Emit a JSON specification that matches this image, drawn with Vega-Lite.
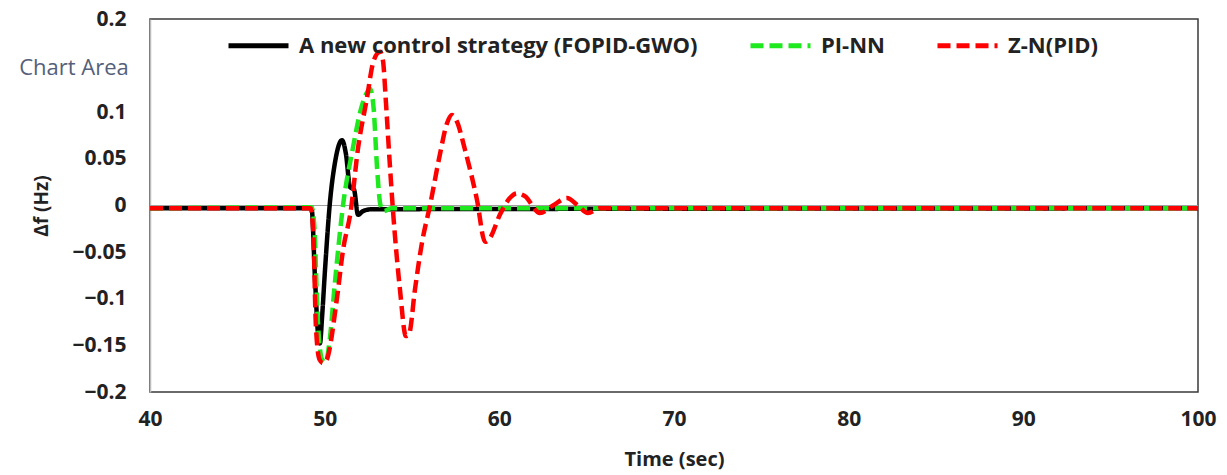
{
  "$schema": "https://vega.github.io/schema/vega-lite/v6.json",
  "width": 1048,
  "height": 373,
  "autosize": "none",
  "padding": {"left": 150, "top": 19, "right": 29, "bottom": 83},
  "background": "white",
  "config": {
    "font": "Open Sans",
    "view": {"stroke": "#3a3a3a", "strokeWidth": 1.5},
    "axis": {"labelFont": "Open Sans", "titleFont": "Open Sans", "labelFontWeight": "bold", "titleFontWeight": "bold", "labelColor": "#222", "titleColor": "#222", "grid": false, "ticks": false}
  },
  "datasets": {
    "curves": [
      {"s": "A new control strategy (FOPID-GWO)", "t": 40, "v": -0.003},
      {"s": "A new control strategy (FOPID-GWO)", "t": 49.25, "v": -0.003},
      {"s": "A new control strategy (FOPID-GWO)", "t": 49.45, "v": -0.08},
      {"s": "A new control strategy (FOPID-GWO)", "t": 49.62, "v": -0.138},
      {"s": "A new control strategy (FOPID-GWO)", "t": 49.73, "v": -0.148},
      {"s": "A new control strategy (FOPID-GWO)", "t": 49.85, "v": -0.12},
      {"s": "A new control strategy (FOPID-GWO)", "t": 50.02, "v": -0.069},
      {"s": "A new control strategy (FOPID-GWO)", "t": 50.3, "v": 0.003},
      {"s": "A new control strategy (FOPID-GWO)", "t": 50.59, "v": 0.046},
      {"s": "A new control strategy (FOPID-GWO)", "t": 50.99, "v": 0.07},
      {"s": "A new control strategy (FOPID-GWO)", "t": 51.22, "v": 0.055},
      {"s": "A new control strategy (FOPID-GWO)", "t": 51.45, "v": 0.02},
      {"s": "A new control strategy (FOPID-GWO)", "t": 51.68, "v": 0.017},
      {"s": "A new control strategy (FOPID-GWO)", "t": 51.91, "v": -0.01},
      {"s": "A new control strategy (FOPID-GWO)", "t": 52.2, "v": -0.006},
      {"s": "A new control strategy (FOPID-GWO)", "t": 52.7, "v": -0.004},
      {"s": "A new control strategy (FOPID-GWO)", "t": 100, "v": -0.003},
      {"s": "PI-NN", "t": 40, "v": -0.003},
      {"s": "PI-NN", "t": 49.25, "v": -0.002},
      {"s": "PI-NN", "t": 49.4, "v": -0.02},
      {"s": "PI-NN", "t": 49.6, "v": -0.12},
      {"s": "PI-NN", "t": 49.85, "v": -0.165},
      {"s": "PI-NN", "t": 50.05, "v": -0.168},
      {"s": "PI-NN", "t": 50.25, "v": -0.15},
      {"s": "PI-NN", "t": 50.6, "v": -0.08},
      {"s": "PI-NN", "t": 51.05, "v": 0.0},
      {"s": "PI-NN", "t": 51.6, "v": 0.06},
      {"s": "PI-NN", "t": 52.1, "v": 0.105},
      {"s": "PI-NN", "t": 52.45, "v": 0.122},
      {"s": "PI-NN", "t": 52.6, "v": 0.125},
      {"s": "PI-NN", "t": 52.8, "v": 0.105},
      {"s": "PI-NN", "t": 53.0, "v": 0.04},
      {"s": "PI-NN", "t": 53.2, "v": 0.0},
      {"s": "PI-NN", "t": 53.4, "v": -0.006},
      {"s": "PI-NN", "t": 53.8, "v": -0.003},
      {"s": "PI-NN", "t": 100, "v": -0.003},
      {"s": "Z-N(PID)", "t": 40, "v": -0.003},
      {"s": "Z-N(PID)", "t": 49.2, "v": -0.003},
      {"s": "Z-N(PID)", "t": 49.35, "v": -0.03},
      {"s": "Z-N(PID)", "t": 49.5, "v": -0.13},
      {"s": "Z-N(PID)", "t": 49.7, "v": -0.165},
      {"s": "Z-N(PID)", "t": 49.9, "v": -0.169},
      {"s": "Z-N(PID)", "t": 50.1, "v": -0.166},
      {"s": "Z-N(PID)", "t": 50.7, "v": -0.1},
      {"s": "Z-N(PID)", "t": 51.05, "v": -0.048},
      {"s": "Z-N(PID)", "t": 51.5, "v": -0.005},
      {"s": "Z-N(PID)", "t": 51.9, "v": 0.06},
      {"s": "Z-N(PID)", "t": 52.4, "v": 0.113},
      {"s": "Z-N(PID)", "t": 52.8, "v": 0.155},
      {"s": "Z-N(PID)", "t": 53.17, "v": 0.165},
      {"s": "Z-N(PID)", "t": 53.34, "v": 0.155},
      {"s": "Z-N(PID)", "t": 53.51, "v": 0.11},
      {"s": "Z-N(PID)", "t": 53.71, "v": 0.05},
      {"s": "Z-N(PID)", "t": 53.91, "v": -0.005},
      {"s": "Z-N(PID)", "t": 54.31, "v": -0.09},
      {"s": "Z-N(PID)", "t": 54.65, "v": -0.14},
      {"s": "Z-N(PID)", "t": 54.83, "v": -0.138},
      {"s": "Z-N(PID)", "t": 55.17, "v": -0.09},
      {"s": "Z-N(PID)", "t": 55.57, "v": -0.04},
      {"s": "Z-N(PID)", "t": 56.03, "v": 0.0},
      {"s": "Z-N(PID)", "t": 56.6, "v": 0.055},
      {"s": "Z-N(PID)", "t": 57.0, "v": 0.088},
      {"s": "Z-N(PID)", "t": 57.29, "v": 0.097},
      {"s": "Z-N(PID)", "t": 57.57, "v": 0.09},
      {"s": "Z-N(PID)", "t": 58.03, "v": 0.06},
      {"s": "Z-N(PID)", "t": 58.72, "v": 0.006},
      {"s": "Z-N(PID)", "t": 59.18, "v": -0.039},
      {"s": "Z-N(PID)", "t": 59.46, "v": -0.035},
      {"s": "Z-N(PID)", "t": 60.03, "v": -0.01},
      {"s": "Z-N(PID)", "t": 60.6, "v": 0.008},
      {"s": "Z-N(PID)", "t": 61.0, "v": 0.013},
      {"s": "Z-N(PID)", "t": 61.46, "v": 0.01},
      {"s": "Z-N(PID)", "t": 62.32, "v": -0.008},
      {"s": "Z-N(PID)", "t": 63.07, "v": 0.0},
      {"s": "Z-N(PID)", "t": 63.87, "v": 0.008},
      {"s": "Z-N(PID)", "t": 64.5, "v": 0.0},
      {"s": "Z-N(PID)", "t": 65.07, "v": -0.008},
      {"s": "Z-N(PID)", "t": 65.76, "v": -0.003},
      {"s": "Z-N(PID)", "t": 100, "v": -0.003}
    ],
    "note": [{"label": "Chart Area", "t": 40, "v": 0.15}]
  },
  "layer": [
    {
      "data": {"name": "note"},
      "mark": {"type": "rule", "color": "#a0a0a0", "strokeWidth": 1},
      "encoding": {"y": {"datum": 0, "type": "quantitative"}}
    },
    {
      "data": {"name": "curves"},
      "mark": {"type": "line", "strokeWidth": 4.5, "interpolate": "monotone", "clip": true},
      "encoding": {
        "x": {"field": "t", "type": "quantitative", "scale": {"domain": [40, 100], "nice": false},
          "axis": {"values": [40, 50, 60, 70, 80, 90, 100], "domain": false, "labelFlush": false, "labelFontSize": 21, "labelPadding": 16, "title": "Time (sec)", "titleFontSize": 20, "titlePadding": 20}},
        "y": {"field": "v", "type": "quantitative", "scale": {"domain": [-0.2, 0.2], "nice": false, "zero": false},
          "axis": {"values": [-0.2, -0.15, -0.1, -0.05, 0, 0.05, 0.1, 0.15, 0.2], "labelExpr": "datum.value == 0.15 ? '' : format(datum.value, '~g')", "domainColor": "#bdbdbd", "domainWidth": 1.5, "labelFontSize": 21, "labelPadding": 24, "title": "Δf (Hz)", "titleFontSize": 19, "titlePadding": 20}},
        "color": {"field": "s", "type": "nominal",
          "scale": {"domain": ["A new control strategy (FOPID-GWO)", "PI-NN", "Z-N(PID)"], "range": ["#000000", "#1ee81e", "#ff0000"]},
          "legend": {"title": null, "orient": "none", "legendX": 76, "legendY": -6, "direction": "horizontal", "columns": 3, "padding": 0, "labelFontSize": 22, "labelFontWeight": "bold", "labelFont": "Open Sans", "labelColor": "#222", "symbolType": "stroke", "symbolSize": 3600, "symbolStrokeWidth": 5, "columnPadding": 42, "labelOffset": 8, "labelLimit": 600}},
        "strokeDash": {"field": "s", "type": "nominal",
          "scale": {"domain": ["A new control strategy (FOPID-GWO)", "PI-NN", "Z-N(PID)"], "range": [[1, 0], [13, 6], [13, 6]]},
          "legend": {"title": null, "orient": "none", "legendX": 76, "legendY": -6, "direction": "horizontal", "columns": 3, "padding": 0, "labelFontSize": 22, "labelFontWeight": "bold", "labelFont": "Open Sans", "labelColor": "#222", "symbolType": "stroke", "symbolSize": 3600, "symbolStrokeWidth": 5, "columnPadding": 42, "labelOffset": 8, "labelLimit": 600}}
      }
    },
    {
      "data": {"name": "note"},
      "mark": {"type": "text", "font": "Open Sans", "fontSize": 22, "color": "#546079", "align": "center", "baseline": "middle", "dx": -76, "dy": 2},
      "encoding": {"x": {"field": "t", "type": "quantitative"}, "y": {"field": "v", "type": "quantitative"}, "text": {"field": "label"}}
    }
  ]
}
